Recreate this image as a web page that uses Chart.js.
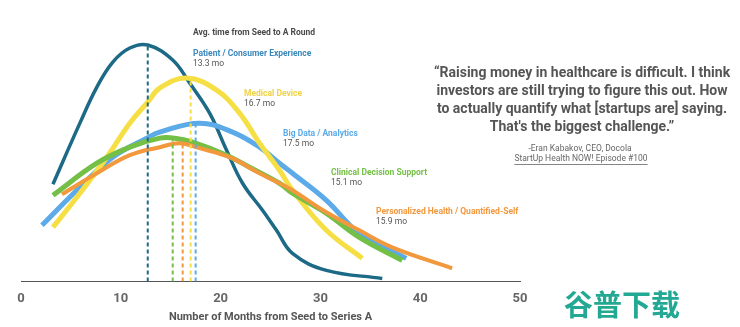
<!DOCTYPE html>
<html>
<head>
<meta charset="utf-8">
<script src="https://cdn.jsdelivr.net/npm/chart.js@4"></script>
<style>
  html, body { margin: 0; padding: 0; background: #fff; }
  #chart { display: block; }
</style>
</head>
<body>
<canvas id="chart" width="740" height="327"></canvas>
<script>
/* -------------------------------
   Data (months vs. relative frequency)
--------------------------------*/
const xTicks = [0, 10, 20, 30, 40, 50];

const patientX = [3.2, 5.9, 7.6, 9.2, 10.9, 12.7, 15.2, 16.9, 18.9, 20.6, 22.2, 24.2, 25.6, 27.2, 30.6, 36.2];
const patientY = [38.8, 63.2, 77.6, 87.6, 93.2, 94.4, 88.4, 79.2, 67.2, 52.4, 39.2, 28.4, 20.4, 11.2, 4.4, 1.2];

const deviceX = [3.2, 5.9, 8.6, 10.9, 12.7, 13.9, 16.6, 19.6, 21.9, 23.9, 25.9, 27.2, 30.6, 34.2];
const deviceY = [21.6, 35.2, 49.6, 63.2, 71.6, 77.2, 81.2, 76.4, 67.2, 55.2, 44.4, 36.4, 20.4, 9.2];

const bigDataX = [2.1, 5.9, 9.2, 12.6, 13.9, 17.9, 21.2, 23.9, 25.9, 27.2, 30.6, 33.9, 38.6];
const bigDataY = [22.4, 37.6, 49.6, 57.2, 59.6, 63.2, 59.6, 53.6, 47.2, 43.2, 32.4, 19.2, 9.2];

const clinicalX = [3.2, 7.6, 10.9, 13.9, 15.4, 17.2, 20.6, 22.9, 25.9, 27.2, 30.6, 33.9, 38.2];
const clinicalY = [34.4, 47.2, 53.6, 57.2, 57.2, 55.6, 50.4, 45.6, 39.2, 35.2, 27.2, 17.6, 8.4];

const personalX = [4.1, 7.6, 10.9, 13.9, 15.9, 17.9, 20.9, 23.9, 25.9, 27.2, 30.6, 33.9, 37.2, 43.2];
const personalY = [34.8, 43.2, 50.4, 53.6, 55.2, 53.2, 49.6, 43.2, 39.2, 36.4, 27.6, 20.4, 13.6, 5.2];

// where the dashed average markers sit on the axis, and the labels beside them
const avgMarkX = [12.7, 17.0, 17.5, 15.2, 16.2];
const avgMonths = [13.3, 16.7, 17.5, 15.1, 15.9];
const sectors = [
  "Patient / Consumer Experience",
  "Medical Device",
  "Big Data / Analytics",
  "Clinical Decision Support",
  "Personalized Health / Quantified-Self"
];

const colors = ["#1d6a87", "#f6df45", "#5caae8", "#74bf45", "#f2983d"];
const labelColors = ["#3b88bb", "#f0d247", "#5caae8", "#74bf45", "#f2983d"];

/* -------------------------------
   Helpers
--------------------------------*/
function points(xs, ys) {
  return xs.map((x, i) => ({ x: x, y: ys[i] }));
}

function curve(xs, ys, color, width) {
  return {
    data: points(xs, ys),
    borderColor: color,
    borderWidth: width,
    pointRadius: 0,
    fill: false,
    tension: 0.4,
    borderCapStyle: "butt"
  };
}

function marker(x, top, color) {
  return {
    data: [{ x: x, y: 0 }, { x: x, y: top }],
    borderColor: color,
    borderWidth: 2,
    borderDash: [4, 3],
    pointRadius: 0,
    tension: 0
  };
}

const seriesY = [patientY, deviceY, bigDataY, clinicalY, personalY];
const markers = avgMarkX.map((x, i) => marker(x, Math.max(...seriesY[i]), colors[i]));

/* -------------------------------
   Text annotations
--------------------------------*/
const annotations = {
  id: "annotations",
  afterDraw(chart) {
    const ctx = chart.ctx;
    const area = chart.chartArea;
    ctx.save();
    ctx.textBaseline = "middle";

    ctx.textAlign = "left";
    ctx.fillStyle = "#4a4a4a";
    ctx.font = "bold 8.5px Roboto";
    ctx.fillText("Avg. time from Seed to A Round", 193, 33);

    const spots = [[193, 54], [244, 94], [283, 134], [331, 173], [376, 212]];
    spots.forEach((p, i) => {
      ctx.font = "bold 8.5px Roboto";
      ctx.fillStyle = labelColors[i];
      ctx.fillText(sectors[i], p[0], p[1]);
      ctx.font = "8.5px Roboto";
      ctx.fillStyle = "#555";
      ctx.fillText(avgMonths[i] + " mo", p[0], p[1] + 10);
    });

    ctx.textAlign = "center";
    ctx.fillStyle = "#555";
    ctx.font = "bold 11px Roboto";
    ctx.fillText("Number of Months from Seed to Series A", (area.left + area.right) / 2, 317);

    ctx.font = "bold 14px Roboto";
    const quote = [
      "\u201cRaising money in healthcare is difficult. I think",
      "investors are still trying to figure this out. How",
      "to actually quantify what [startups are] saying.",
      "That's the biggest challenge.\u201d"
    ];
    quote.forEach((line, i) => ctx.fillText(line, 582, 73 + i * 18.3));

    ctx.font = "8.5px Roboto";
    ctx.fillStyle = "#666";
    ctx.fillText("-Eran Kabakov, CEO, Docola", 580, 149);
    const src = "StartUp Health NOW! Episode #100";
    ctx.fillText(src, 581, 159);
    const w = ctx.measureText(src).width;
    ctx.fillRect(581 - w / 2, 164, w, 0.8);

    ctx.font = "bold 29px 'Noto Sans CJK SC'";
    ctx.fillStyle = "#23a893";
    ctx.fillText("谷普下载", 622, 305);
    ctx.restore();
  }
};

/* -------------------------------
   Chart
--------------------------------*/
new Chart(document.getElementById("chart"), {
  type: "line",
  data: {
    datasets: [
      ...markers,
      curve(personalX, personalY, colors[4], 4),
      curve(clinicalX, clinicalY, colors[3], 5),
      curve(deviceX, deviceY, colors[1], 5),
      curve(bigDataX, bigDataY, colors[2], 5),
      curve(patientX, patientY, colors[0], 3.5)
    ]
  },
  options: {
    responsive: false,
    animation: false,
    layout: { padding: { left: 21, right: 220, top: 31, bottom: 10 } },
    plugins: { legend: { display: false }, tooltip: { enabled: false } },
    scales: {
      x: {
        type: "linear",
        min: xTicks[0],
        max: xTicks[xTicks.length - 1],
        afterBuildTicks: axis => { axis.ticks = xTicks.map(v => ({ value: v })); },
        grid: { display: false, drawTicks: false },
        border: { color: "#555", width: 1 },
        ticks: {
          padding: 10,
          color: "#666",
          font: { family: "Roboto", weight: "bold", size: 13 }
        }
      },
      y: { display: false, min: 0, max: 100 }
    }
  },
  plugins: [annotations]
});
</script>
</body>
</html>
